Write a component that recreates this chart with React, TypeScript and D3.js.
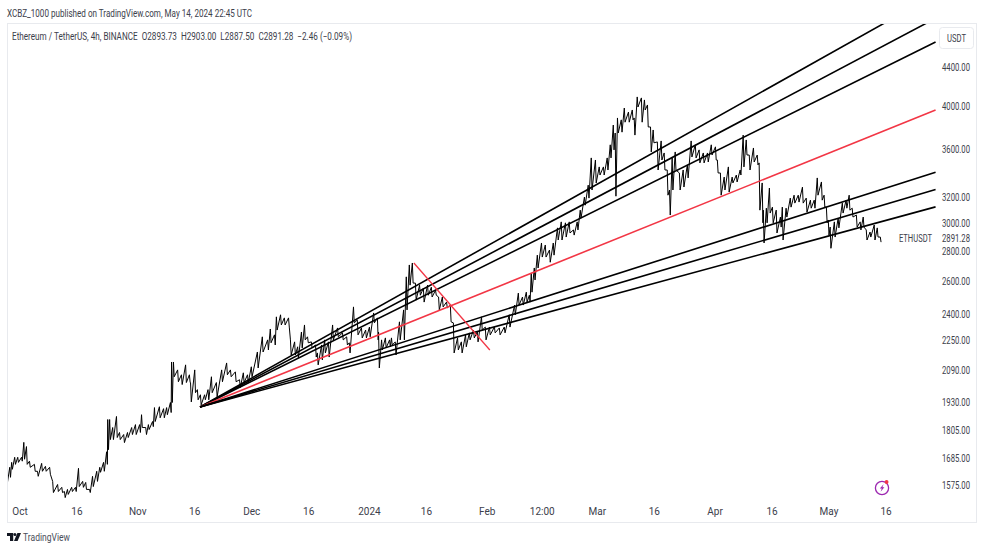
import React from "react";
import * as d3 from "d3";

const barDays = [-3.4,-2.6,-2.1,-1.3,-0.5,0.5,1.1,1.8,2.6,3.9,4.7,5.8,6.8,7.9,8.7,10,11.1,11.8,12.6,13.7,14.7,15.5,16.6,17.4,18.4,19.2,20.3,21.1,22.1,22.9,23.2,23.7,24.5,25.5,26.3,27.4,28.4,29.5,30.5,31.6,32.1,33.2,33.9,35,35.5,36.8,37.9,38.7,39.7,40,40.5,41.6,42.6,43.7,44.7,45,46.1,46.8,47.6,48.7,49.6,50.5,51.8,53.2,54.5,55.5,56.8,57.9,58.9,60,61,62.6,63.9,65.3,66,67.1,67.6,68.7,69.7,70.8,71.3,72.4,73.2,74.2,75,75.8,76.8,77.9,78.4,79.5,80.3,81.3,82.4,83.7,85,86.1,86.8,87.9,88.9,90,91.1,92.1,93.2,94.2,94.5,95.3,96.3,97.4,97.9,98.9,100,101.1,101.8,102.6,103.4,104.2,105.3,106.3,107.4,108.4,109.5,110.3,111.3,112.4,113.4,114.2,115.3,116.3,117.4,118.4,119.5,120.5,121.6,122.6,123.7,125,126.3,127.6,128.9,130.3,131.3,132.4,133.4,134.2,134.7,135.5,136.3,137.4,138.4,139.5,140.5,141.6,142.6,143.7,144.7,145.8,146.8,147.6,148.7,149.7,150.5,151.6,152.6,153.7,154.7,155.5,156.3,156.8,157.4,158.4,159.2,160.3,161.3,161.8,162.6,163.7,164.5,165.3,166.1,166.8,167.9,168.9,169.7,170.5,171.1,171.8,172.6,173.7,174.7,175.8,176.8,177.9,178.9,180,181.1,182.1,183.2,183.7,184.5,185.5,186.6,187.6,188.7,189.7,190.5,191.3,192.1,193.2,194.2,194.7,195.5,195.8,196.6,197.4,198.2,199.2,200.3,200.8,201.8,202.9,203.9,205,206.1,207.1,208.2,209.2,210,211.1,211.8,212.4,212.9,213.4,214.5,215.5,216.6,217.6,218.4,219.2,220.3,221.3,222.1,222.9,223.9,225,225.8,226.6];

const barHighs = [1629,1645,1665,1686,1686,1686,1749,1731,1670,1657,1629,1661,1649,1645,1589,1577,1566,1550,1558,1566,1566,1641,1589,1585,1558,1609,1629,1645,1665,1709,1850,1850,1814,1864,1792,1783,1792,1814,1827,1827,1872,1814,1827,1841,1905,1909,1900,1905,1929,2131,2131,2090,2065,2116,2065,2026,2090,1991,1966,1966,1991,2055,2026,2090,2126,2090,2080,2040,2075,2065,2106,2184,2267,2250,2311,2278,2381,2393,2375,2375,2250,2239,2212,2294,2334,2267,2239,2222,2179,2222,2250,2239,2334,2317,2289,2267,2234,2440,2363,2317,2305,2322,2404,2375,2294,2250,2261,2250,2261,2239,2352,2422,2627,2705,2718,2587,2574,2555,2574,2561,2542,2500,2500,2469,2451,2346,2261,2239,2278,2289,2305,2294,2381,2322,2322,2322,2317,2322,2393,2451,2524,2500,2530,2511,2652,2685,2771,2855,2841,2806,2855,2963,3007,3000,3007,2948,3007,3095,3196,3291,3519,3501,3442,3442,3519,3634,3815,3741,3882,3864,3978,3939,3959,3882,4088,4078,4058,4008,3797,3769,3660,3669,3562,3416,3252,3527,3571,3391,3416,3459,3669,3634,3589,3562,3562,3634,3616,3501,3391,3357,3442,3357,3374,3416,3722,3678,3544,3606,3544,3476,3309,3095,3110,3268,3118,3095,3043,3118,3110,3188,3211,3211,3275,3188,3172,3172,3350,3317,3211,3118,3021,2969,3007,3035,3149,3172,3211,3110,3058,3007,3043,2948,2933,2984,2963,2897];

const barLows = [1585,1605,1637,1657,1665,1670,1678,1657,1645,1629,1609,1629,1629,1617,1546,1550,1546,1527,1539,1550,1550,1569,1566,1558,1546,1569,1589,1625,1629,1657,1718,1761,1761,1770,1761,1748,1770,1783,1783,1792,1814,1783,1805,1818,1841,1858,1858,1872,1882,1929,2055,2030,2016,2026,2026,1932,1976,1942,1918,1942,1942,1976,1956,2030,2065,2055,2030,2001,2026,2026,2055,2100,2184,2195,2234,2222,2305,2334,2334,2322,2168,2168,2152,2206,2250,2234,2206,2157,2116,2142,2179,2157,2250,2267,2250,2222,2179,2346,2278,2261,2261,2267,2346,2250,2100,2195,2206,2212,2222,2168,2250,2250,2422,2574,2587,2481,2511,2469,2511,2500,2511,2422,2440,2434,2352,2179,2195,2179,2212,2250,2261,2239,2305,2250,2278,2289,2278,2289,2322,2393,2451,2451,2469,2469,2530,2607,2685,2758,2758,2723,2771,2876,2876,2897,2926,2911,2948,3035,3133,3188,3252,3309,3374,3374,3416,3519,3589,3203,3741,3749,3842,3842,3864,3722,3988,3842,3959,3797,3571,3652,3416,3501,3416,3211,3058,3252,3416,3252,3276,3350,3527,3519,3476,3476,3484,3544,3501,3391,3211,3252,3236,3309,3317,3374,3442,3544,3416,3484,3459,3095,3000,2855,3000,3073,3000,2926,2969,2876,3043,3118,3149,3157,3149,3080,3110,3110,3211,3172,3118,3000,2911,2818,2897,2963,3073,3110,3095,3043,2969,2948,2969,2876,2897,2876,2897,2861];

const priceTicks = [4400,4000,3600,3200,3000,2800,2600,2400,2250,2090,1930,1805,1685,1575];
const lastPrice = 2891.28;

const timeTickLabels = ["Oct","16","Nov","16","Dec","16","2024","16","Feb","12:00","Mar","16","Apr","16","May","16"];
const timeTickDates = ["2023-10-01","2023-10-16","2023-11-01","2023-11-16","2023-12-01","2023-12-16","2024-01-01","2024-01-16","2024-02-01","2024-02-15T12:00","2024-03-01","2024-03-16","2024-04-01","2024-04-16","2024-05-01","2024-05-16"];

const fanOriginDay = 47.4;
const fanOriginPrice = 1908;
const fanEndDays = [227.6,238.7,241.05,241.05,241.05,241.05,241.05];
const fanEndPrices = [4902,4902,4679,3959,3398,3256,3120];
const fanColors = ["#000000","#000000","#000000","#f23645","#000000","#000000","#000000"];
const slashDays = [103.7,123.7];
const slashPrices = [2718,2195];

const baseMs = Date.UTC(2023, 9, 1);
const dayDate = (d: number) => new Date(baseMs + d * 86400000);

const x = d3.scaleUtc().domain([new Date("2023-10-01T00:00Z"), new Date("2024-05-16T00:00Z")]).range([20, 886]);
const y = d3.scaleLog().domain([4400, 1575]).range([67, 485]);

const textColor = "#3c404b";
const font = "Roboto, 'Liberation Sans', sans-serif";

export default function App() {
  const pts: [number, number][] = [];
  barDays.forEach((d, i) => {
    pts.push([x(dayDate(d - 0.1)), y(barHighs[i])]);
    pts.push([x(dayDate(d + 0.1)), y(barLows[i])]);
  });
  const line = d3.line();
  return (
    <svg width={984} height={554} style={{ position: "absolute", left: 0, top: 0, background: "#fff" }} fontFamily={font}>
      <defs>
        <clipPath id="pane"><rect x={8} y={24} width={968} height={498} /></clipPath>
      </defs>
      <text x={7} y={17} fontSize={10.5} fill={textColor} textLength={245} lengthAdjust="spacingAndGlyphs">XCBZ_1000 published on TradingView.com, May 14, 2024 22:45 UTC</text>
      <rect x={7.5} y={23.5} width={969} height={499} fill="none" stroke="#e8eaee" />
      <text x={12} y={40} fontSize={10.5} fill={textColor} textLength={340} lengthAdjust="spacingAndGlyphs" style={{ whiteSpace: "pre" }}>Ethereum / TetherUS, 4h, BINANCE  O2893.73  H2903.00  L2887.50  C2891.28  −2.46 (−0.09%)</text>

      <g clipPath="url(#pane)">
        <path d={line(pts) ?? ""} fill="none" stroke="#000" strokeWidth={1} />
        {fanEndDays.map((d, i) => (
          <path key={i}
            d={line([[x(dayDate(fanOriginDay)), y(fanOriginPrice)], [x(dayDate(d)), y(fanEndPrices[i])]]) ?? ""}
            stroke={fanColors[i]} strokeWidth={1.6} fill="none" />
        ))}
        <path d={line([[x(dayDate(slashDays[0])), y(slashPrices[0])], [x(dayDate(slashDays[1])), y(slashPrices[1])]]) ?? ""}
          stroke="#f23645" strokeWidth={1.3} fill="none" />
      </g>

      <rect x={939.5} y={27.5} width={34} height={21} rx={3} fill="#fff" stroke="#e8eaee" />
      <text x={956.5} y={42} fontSize={10.5} fill={textColor} textAnchor="middle" textLength={19} lengthAdjust="spacingAndGlyphs">USDT</text>

      {priceTicks.map((p) => (
        <text key={p} x={970} y={y(p) + 4} fontSize={10} fill={textColor} textAnchor="end" textLength={28} lengthAdjust="spacingAndGlyphs">{p.toFixed(2)}</text>
      ))}
      <text x={970} y={y(lastPrice) + 4} fontSize={10} fill={textColor} textAnchor="end" textLength={28} lengthAdjust="spacingAndGlyphs">{lastPrice.toFixed(2)}</text>
      <text x={932} y={y(lastPrice) + 4} fontSize={10} fill={textColor} textAnchor="end" textLength={33} lengthAdjust="spacingAndGlyphs">ETHUSDT</text>

      {timeTickLabels.map((t, i) => (
        <text key={i} x={x(new Date(timeTickDates[i] + (timeTickDates[i].includes("T") ? "Z" : "T00:00Z")))} y={515} fontSize={10} fill={textColor} textAnchor="middle">{t}</text>
      ))}

      <g transform="translate(882,488)">
        <circle r={6.6} fill="#fff" stroke="#9c27b0" strokeWidth={1.3} />
        <path d="M1.6,-3.8 L-2.2,0.6 L-0.2,0.6 L-1.4,3.8 L2.4,-0.8 L0.4,-0.8 Z" fill="#9c27b0" />
        <circle cx={4.6} cy={-6} r={1.9} fill="#f23645" />
      </g>

      <g transform="translate(7,533)" fill="#131722">
        <path d="M0,0 H6.2 V8 H3 V3 H0 Z" />
        <circle cx={7.9} cy={1.5} r={1.5} />
        <path d="M10.4,0 H14 L10.6,8 H7 Z" />
      </g>
      <text x={23} y={541} fontSize={11} fill="#4a4e59" textLength={47} lengthAdjust="spacingAndGlyphs">TradingView</text>
    </svg>
  );
}
